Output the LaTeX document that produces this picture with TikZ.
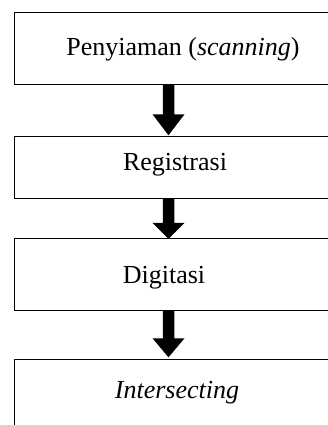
\documentclass[tikz,border=0pt]{standalone}
\usepackage{fontspec}
\setmainfont{Liberation Serif}
\usetikzlibrary{calc}
\tikzset{
  boxarea/.style={draw=none,rectangle,inner sep=0pt,minimum width=312pt},
  boxline/.style={line width=1.2pt,line cap=rect},
  lbl/.style={anchor=base,inner sep=0pt,font=\fontsize{26}{30}\selectfont},
}
% #1 start coordinate (shaft top), #2 tip coordinate, #3 head length
\newcommand\blockarrow[3]{%
  \fill ($(#1)+(-5.75,0)$) -- ($(#2)+(-5.75,-#3)$) -- ($(#2)+(-16,-#3)$) -- (#2)
     -- ($(#2)+(16,-#3)$) -- ($(#2)+(5.75,-#3)$) -- ($(#1)+(5.75,0)$) -- cycle;}
\begin{document}
\begin{tikzpicture}[x=1pt,y=-1pt]
\useasboundingbox (0,0) rectangle (327,425);
% box areas
\node[boxarea,minimum height=71pt] (b1) at (171,48.5) {};
\node[boxarea,minimum height=61pt] (b2) at (171,167.5) {};
\node[boxarea,minimum height=71pt] (b3) at (171,274.5) {};
\node[boxarea,minimum height=67pt] (b4) at (171,393.5) {};
% outlines (right edge cut off by the page)
\draw[boxline] ($(b1.north east)+(5,0)$) -- (b1.north west) -- (b1.south west) -- ($(b1.south east)+(5,0)$);
\draw[boxline] ($(b2.north east)+(5,0)$) -- (b2.north west) -- (b2.south west) -- ($(b2.south east)+(5,0)$);
\draw[boxline] ($(b3.north east)+(5,0)$) -- (b3.north west) -- (b3.south west) -- ($(b3.south east)+(5,0)$);
\draw[boxline] ($(b4.north east)+(5,0)$) -- (b4.north west) -- (b4.south west);
% labels
\node[lbl] (t1) at (183,56) {Penyiaman (\textit{scanning})};
\node[lbl] (t2) at (175,170) {Registrasi};
\node[lbl] (t3) at (164,283) {Digitasi};
\node[lbl] (t4) at (177,398) {\textit{Intersecting}};
% arrows
\coordinate (a1s) at (168.5,0 |- b1.south);
\coordinate (a1t) at ($(168.5,0 |- b2.north)+(0,-1.5)$);
\coordinate (a2s) at (168.5,0 |- b2.south);
\coordinate (a2t) at (168.5,0 |- b3.north);
\coordinate (a3s) at (168.5,0 |- b3.south);
\coordinate (a3t) at ($(168.5,0 |- b4.north)+(0,-2.5)$);
\blockarrow{a1s}{a1t}{21}
\blockarrow{a2s}{a2t}{16}
\blockarrow{a3s}{a3t}{19}
\end{tikzpicture}
\end{document}
